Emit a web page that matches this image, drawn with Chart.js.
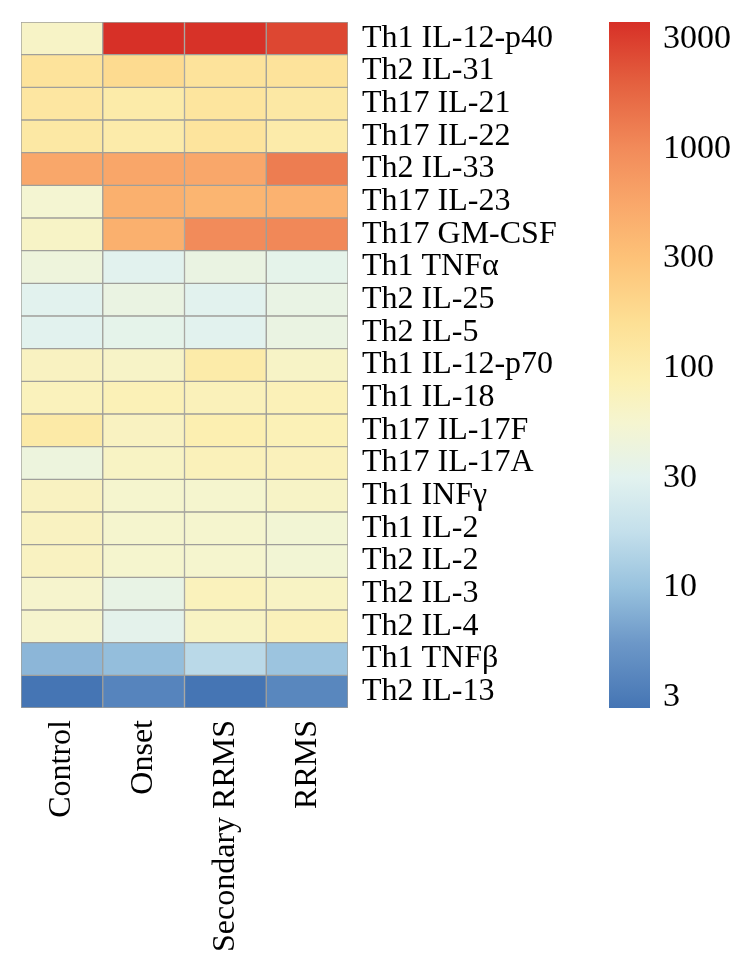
<!DOCTYPE html>
<html>
<head>
<meta charset="utf-8">
<script src="https://cdn.jsdelivr.net/npm/chart.js@4"></script>
<style>
    html, body { margin: 0; padding: 0; background: #fff; }
    #wrap { position: relative; width: 746px; height: 974px; }
    #chartHeat { position: absolute; left: 0; top: 0; }
    #chartScale { position: absolute; left: 560px; top: 0; }
</style>
</head>
<body>
<div id="wrap">
    <canvas id="chartHeat" width="600" height="974"></canvas>
    <canvas id="chartScale" width="186" height="974"></canvas>
</div>
<script>
const groups = ["Control", "Onset", "Secondary RRMS", "RRMS"];

const cytokines = [
    "Th1 IL-12-p40", "Th2 IL-31", "Th17 IL-21", "Th17 IL-22", "Th2 IL-33",
    "Th17 IL-23", "Th17 GM-CSF", "Th1 TNF\u03b1", "Th2 IL-25", "Th2 IL-5",
    "Th1 IL-12-p70", "Th1 IL-18", "Th17 IL-17F", "Th17 IL-17A", "Th1 INF\u03b3",
    "Th1 IL-2", "Th2 IL-2", "Th2 IL-3", "Th2 IL-4", "Th1 TNF\u03b2", "Th2 IL-13"
];

// values (same order as cytokines)
const control   = [66, 141, 126, 117, 562, 54, 66, 45, 32, 32, 71, 76, 110, 44, 71, 71, 71, 59, 59, 8.5, 2.82];
const onset     = [3780, 178, 107, 105, 575, 468, 468, 32, 40, 35, 65, 83, 71, 68, 58, 58, 58, 38, 34, 9.5, 3.8];
const secondary = [3700, 141, 132, 135, 562, 417, 1000, 40, 32, 32, 107, 79, 91, 79, 58, 58, 58, 76, 69, 15.8, 2.82];
const rrms      = [2800, 141, 117, 105, 1259, 447, 1050, 35, 39, 40, 66, 81, 83, 78, 66, 52, 52, 68, 79, 10.5, 4.0];

const colorMin = 2.82;
const colorMax = 3784;
const colorbarTicks = [3.162, 10, 31.62, 100, 316.2, 1000, 3162];
const colorbarLabels = ["3", "10", "30", "100", "300", "1000", "3000"];

// colour ramp, stops in log10 units
const stopLogs = [0.45, 0.75, 1.0, 1.25, 1.5, 1.75, 1.95, 2.2, 2.5, 2.75, 3.0, 3.3, 3.578];
const stopColors = ["#4575b4", "#6d98c8", "#98c2de", "#c3dfeb", "#e2f2ef", "#f5f5d0", "#fcf0b2",
    "#fde095", "#fdc278", "#f9a76a", "#f28b5a", "#e4603f", "#d73027"];

const el = id => document.getElementById(id);
const serif = "'Liberation Serif', 'DejaVu Serif', serif";

Chart.defaults.font.family = serif;
Chart.defaults.color = "#000";

function hexToRgb(hex) {
    const n = parseInt(hex.slice(1), 16);
    return [(n >> 16) & 255, (n >> 8) & 255, n & 255];
}

function colorFor(value) {
    const l = Math.min(stopLogs[stopLogs.length - 1], Math.max(stopLogs[0], Math.log10(value)));
    let i = 0;
    while (i < stopLogs.length - 2 && l > stopLogs[i + 1]) i++;
    const t = (l - stopLogs[i]) / (stopLogs[i + 1] - stopLogs[i]);
    const a = hexToRgb(stopColors[i]);
    const b = hexToRgb(stopColors[i + 1]);
    const c = a.map((v, k) => Math.round(v + (b[k] - v) * t));
    return `rgb(${c[0]}, ${c[1]}, ${c[2]})`;
}

function scaleGradient(chart) {
    const { ctx, chartArea, scales } = chart;
    if (!chartArea) return "#fde095";
    const h = chartArea.bottom - chartArea.top;
    const g = ctx.createLinearGradient(0, chartArea.bottom, 0, chartArea.top);
    stopLogs.forEach((l, i) => {
        const t = (chartArea.bottom - scales.y.getPixelForValue(10 ** l)) / h;
        g.addColorStop(Math.min(1, Math.max(0, t)), stopColors[i]);
    });
    return g;
}

// fixed axis size, no extra padding from the labels
const fixWidth = w => scale => {
    scale.width = w;
    scale.paddingTop = 0;
    scale.paddingBottom = 0;
};

function loadHeatmap() {
    const columns = [control, onset, secondary, rrms];
    new Chart(el("chartHeat"), {
        type: "bar",
        data: {
            labels: cytokines,
            datasets: columns.map((vals, c) => ({
                data: vals.map(() => [c, c + 1]),
                backgroundColor: vals.map(colorFor),
                borderColor: "#a09f9a",
                borderWidth: 1,
                borderSkipped: false,
                barPercentage: 1,
                categoryPercentage: 1,
                grouped: false
            }))
        },
        options: {
            indexAxis: "y",
            responsive: false,
            animation: false,
            layout: { padding: { left: 21, top: 22, right: 0, bottom: 0 } },
            plugins: {
                legend: { display: false },
                tooltip: { enabled: false }
            },
            scales: {
                y: {
                    position: "right",
                    grid: { display: false, drawTicks: false },
                    border: { display: false },
                    ticks: { padding: 14, autoSkip: false, font: { size: 32 } },
                    afterFit: fixWidth(252)
                },
                x: {
                    type: "linear",
                    min: 0,
                    max: 4,
                    grid: { display: false, drawTicks: false },
                    border: { display: false },
                    afterBuildTicks: scale => {
                        scale.ticks = groups.map((_, i) => ({ value: i + 0.5 }));
                    },
                    ticks: {
                        callback: value => groups[Math.floor(value)],
                        minRotation: 90,
                        maxRotation: 90,
                        padding: 12,
                        autoSkip: false,
                        font: { size: 32 }
                    },
                    afterFit: scale => {
                        scale.height = 266;
                        scale.paddingLeft = 0;
                        scale.paddingRight = 0;
                    }
                }
            }
        }
    });
}

function loadColorbar() {
    new Chart(el("chartScale"), {
        type: "bar",
        data: {
            labels: [""],
            datasets: [{
                data: [[colorMin, colorMax]],
                backgroundColor: context => scaleGradient(context.chart),
                borderWidth: 0,
                barPercentage: 1,
                categoryPercentage: 1
            }]
        },
        options: {
            responsive: false,
            animation: false,
            layout: { padding: { left: 49, top: 22, right: 0, bottom: 266 } },
            plugins: {
                legend: { display: false },
                tooltip: { enabled: false }
            },
            scales: {
                x: { display: false },
                y: {
                    type: "logarithmic",
                    position: "right",
                    min: colorMin,
                    max: colorMax,
                    grid: { display: false, drawTicks: false },
                    border: { display: false },
                    afterBuildTicks: scale => {
                        scale.ticks = colorbarTicks.map(v => ({ value: v }));
                    },
                    ticks: {
                        callback: (value, i) => colorbarLabels[i],
                        padding: 13,
                        autoSkip: false,
                        font: { size: 34 }
                    },
                    afterFit: fixWidth(96)
                }
            }
        }
    });
}

(function () {
    [loadHeatmap, loadColorbar].forEach(loader => loader());
})();
</script>
</body>
</html>
